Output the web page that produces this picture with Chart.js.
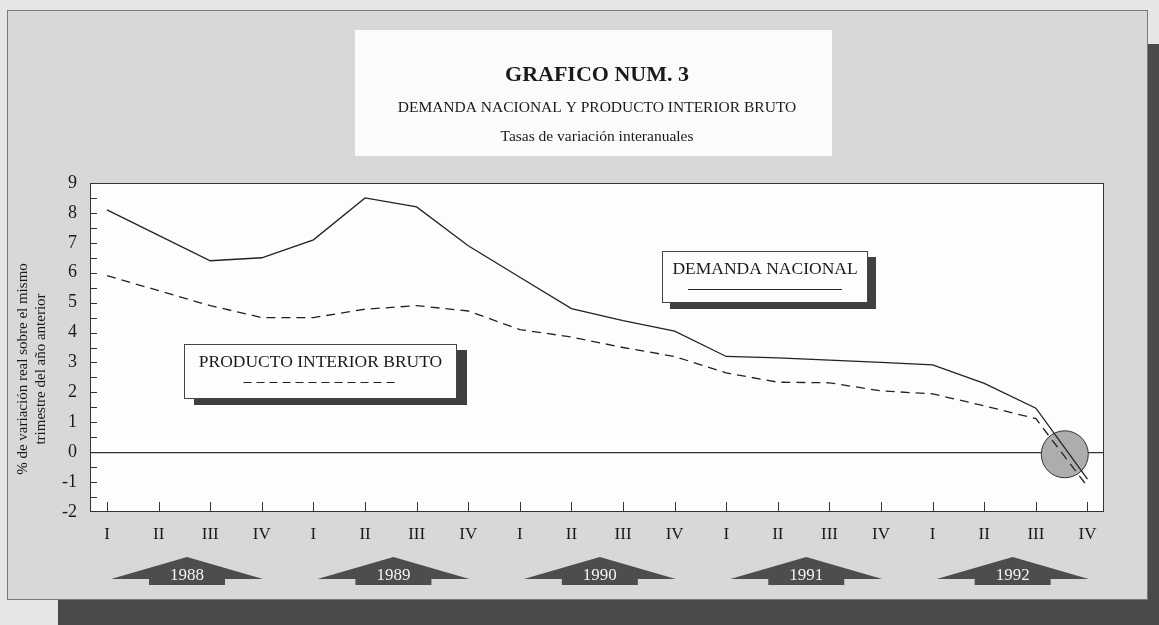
<!DOCTYPE html>
<html><head><meta charset="utf-8">
<script src="https://cdn.jsdelivr.net/npm/chart.js@4.4.1/dist/chart.umd.min.js"></script>
<style>html,body{margin:0;padding:0;background:#e4e4e4;overflow:hidden}canvas{display:block}</style>
</head><body>
<canvas id="c" width="1159" height="625"></canvas>
<script>
// ---- data ----
const QUARTER_LABELS = ['I','II','III','IV','I','II','III','IV','I','II','III','IV','I','II','III','IV','I','II','III','IV'];
const YEARS = ['1988','1989','1990','1991','1992'];
const DEMANDA_NACIONAL = [8.1, 7.25, 6.4, 6.5, 7.1, 8.5, 8.2, 6.9, 5.85, 4.8, 4.4, 4.05, 3.2, 3.15, 3.08, 3.0, 2.92, 2.3, 1.47, -0.9];
const PIB = [5.9, 5.4, 4.9, 4.5, 4.5, 4.78, 4.9, 4.72, 4.1, 3.85, 3.5, 3.2, 2.65, 2.34, 2.32, 2.05, 1.95, 1.55, 1.12, -1.15];
const Y_MIN = -2, Y_MAX = 9;
const TITLE = 'GRAFICO NUM. 3';
const SUBTITLE = ['DEMANDA NACIONAL Y PRODUCTO INTERIOR BRUTO', 'Tasas de variación interanuales'];
const Y_TITLE = ['% de variación real sobre el mismo', 'trimestre del año anterior'];
const LEGEND_DEMANDA = 'DEMANDA NACIONAL';
const LEGEND_PIB = 'PRODUCTO INTERIOR BRUTO';

const SERIF = '"Liberation Serif", "Times New Roman", serif';
const INK = '#222';

function line(ctx, x1, y1, x2, y2) { ctx.beginPath(); ctx.moveTo(x1, y1); ctx.lineTo(x2, y2); ctx.stroke(); }

function legendBox(ctx, bx, by, w, h, sx, sy, text, dash) {
  ctx.fillStyle = '#404040';
  ctx.fillRect(bx + sx, by + sy, w, h);
  ctx.fillStyle = '#fdfdfd';
  ctx.fillRect(bx, by, w, h);
  ctx.strokeStyle = '#444'; ctx.lineWidth = 1;
  ctx.strokeRect(bx + 0.5, by + 0.5, w - 1, h - 1);
  ctx.fillStyle = '#1a1a1a';
  ctx.font = '17.5px ' + SERIF;
  ctx.textAlign = 'center'; ctx.textBaseline = 'middle';
  ctx.fillText(text, bx + w / 2, by + 18);
  ctx.strokeStyle = INK; ctx.lineWidth = 1.2;
  ctx.setLineDash(dash);
  line(ctx, bx + w / 2 - 77, by + 38.5, bx + w / 2 + 77, by + 38.5);
  ctx.setLineDash([]);
}

const decor = {
  id: 'decor',
  beforeDraw(chart) {
    const {ctx, chartArea: a} = chart;
    ctx.save();
    ctx.fillStyle = '#e6e6e6'; ctx.fillRect(0, 0, 1159, 625);
    ctx.fillStyle = '#4a4a4a';
    ctx.fillRect(1148, 44, 11, 581);
    ctx.fillRect(58, 600, 1101, 25);
    ctx.fillStyle = '#d8d8d8'; ctx.fillRect(7, 10, 1141, 590);
    ctx.strokeStyle = '#7a7a7a'; ctx.lineWidth = 1; ctx.strokeRect(7.5, 10.5, 1140, 589);
    ctx.fillStyle = '#fbfbfb'; ctx.fillRect(355, 30, 477, 126);
    ctx.fillStyle = '#fdfdfd'; ctx.fillRect(a.left, a.top, a.right - a.left, a.bottom - a.top);
    ctx.restore();
  },
  beforeDatasetsDraw(chart) {
    const {ctx, chartArea: a, scales: {x, y}} = chart;
    ctx.save();
    ctx.strokeStyle = '#333'; ctx.lineWidth = 1;
    ctx.strokeRect(a.left + 0.5, a.top + 0.5, a.right - a.left - 1, a.bottom - a.top - 1);
    for (let v = Y_MIN + 0.5; v < Y_MAX; v += 0.5) {
      const py = Math.round(y.getPixelForValue(v)) + 0.5;
      line(ctx, a.left + 1, py, a.left + 7, py);
    }
    x.ticks.forEach(t => {
      const px = Math.round(x.getPixelForValue(t.value)) + 0.5;
      line(ctx, px, a.bottom, px, a.bottom - 10);
    });
    // highlight circle around the turning point (Q3-Q4 1992, at zero)
    const cx = x.getPixelForValue(18.56), cy = y.getPixelForValue(-0.07);
    ctx.beginPath(); ctx.arc(cx, cy, 23.5, 0, Math.PI * 2);
    ctx.fillStyle = '#adadad'; ctx.fill();
    ctx.strokeStyle = '#333'; ctx.lineWidth = 1; ctx.stroke();
    ctx.restore();
  },
  afterDraw(chart) {
    const {ctx, scales: {x}} = chart;
    ctx.save();
    legendBox(ctx, 662, 251, 206, 52, 8, 6, LEGEND_DEMANDA, []);
    legendBox(ctx, 184, 344, 273, 55, 10, 6, LEGEND_PIB, [8, 5]);
    // year arrows
    YEARS.forEach((yr, i) => {
      const cx = x.getPixelForValue(i * 4 + 1.55);
      ctx.fillStyle = '#4d4d4d';
      ctx.beginPath();
      ctx.moveTo(cx, 557);
      ctx.lineTo(cx + 76, 579);
      ctx.lineTo(cx + 38, 579);
      ctx.lineTo(cx + 38, 585);
      ctx.lineTo(cx - 38, 585);
      ctx.lineTo(cx - 38, 579);
      ctx.lineTo(cx - 76, 579);
      ctx.closePath();
      ctx.fill();
      ctx.fillStyle = '#f4f4f4';
      ctx.font = '17px ' + SERIF;
      ctx.textAlign = 'center'; ctx.textBaseline = 'middle';
      ctx.fillText(yr, cx, 576);
    });
    // y axis title
    ctx.translate(0, 369);
    ctx.rotate(-Math.PI / 2);
    ctx.fillStyle = '#1a1a1a';
    ctx.font = '15px ' + SERIF;
    ctx.textAlign = 'center'; ctx.textBaseline = 'middle';
    ctx.fillText(Y_TITLE[0], 0, 23);
    ctx.fillText(Y_TITLE[1], 0, 41);
    ctx.restore();
  }
};

new Chart(document.getElementById('c'), {
  type: 'line',
  data: {
    datasets: [
      { label: LEGEND_DEMANDA, data: DEMANDA_NACIONAL.map((v, i) => ({x: i, y: v})),
        borderColor: INK, borderWidth: 1.3, pointRadius: 0, tension: 0, fill: false },
      { label: LEGEND_PIB, data: PIB.map((v, i) => ({x: i, y: v})),
        borderColor: INK, borderWidth: 1.3, borderDash: [9, 6], pointRadius: 0, tension: 0, fill: false }
    ]
  },
  options: {
    responsive: false, animation: false, devicePixelRatio: 1, events: [],
    layout: { padding: { left: 0, right: 55, top: 0, bottom: 0 } },
    plugins: {
      legend: { display: false }, tooltip: { enabled: false },
      title: { display: true, fullSize: false, text: TITLE, color: '#1a1a1a',
        font: { family: SERIF, size: 22, weight: 'bold', lineHeight: 1.2 },
        padding: { top: 61.8, bottom: 0 } },
      subtitle: { display: true, fullSize: false, text: SUBTITLE, color: '#1a1a1a',
        font: { family: SERIF, size: 15.5, lineHeight: '29px' },
        padding: { top: 5.3, bottom: 31.5 } }
    },
    scales: {
      x: {
        type: 'linear', min: -0.33, max: 19.32,
        afterBuildTicks: s => { s.ticks = QUARTER_LABELS.map((_, i) => ({ value: i })); },
        ticks: { autoSkip: false, maxRotation: 0, padding: 12, color: '#1a1a1a',
          font: { family: SERIF, size: 17 }, callback: v => QUARTER_LABELS[v] },
        grid: { display: false, drawTicks: false },
        border: { display: false },
        afterFit: s => { s.height = 113; }
      },
      y: {
        min: Y_MIN, max: Y_MAX,
        ticks: { stepSize: 1, padding: 13, color: '#1a1a1a', font: { family: SERIF, size: 18 } },
        grid: { drawTicks: false, lineWidth: 1.2,
          color: c => (c.tick && c.tick.value === 0) ? '#333' : 'rgba(0,0,0,0)' },
        border: { display: false },
        afterFit: s => { s.width = 90; }
      }
    }
  },
  plugins: [decor]
});
</script>
</body></html>
